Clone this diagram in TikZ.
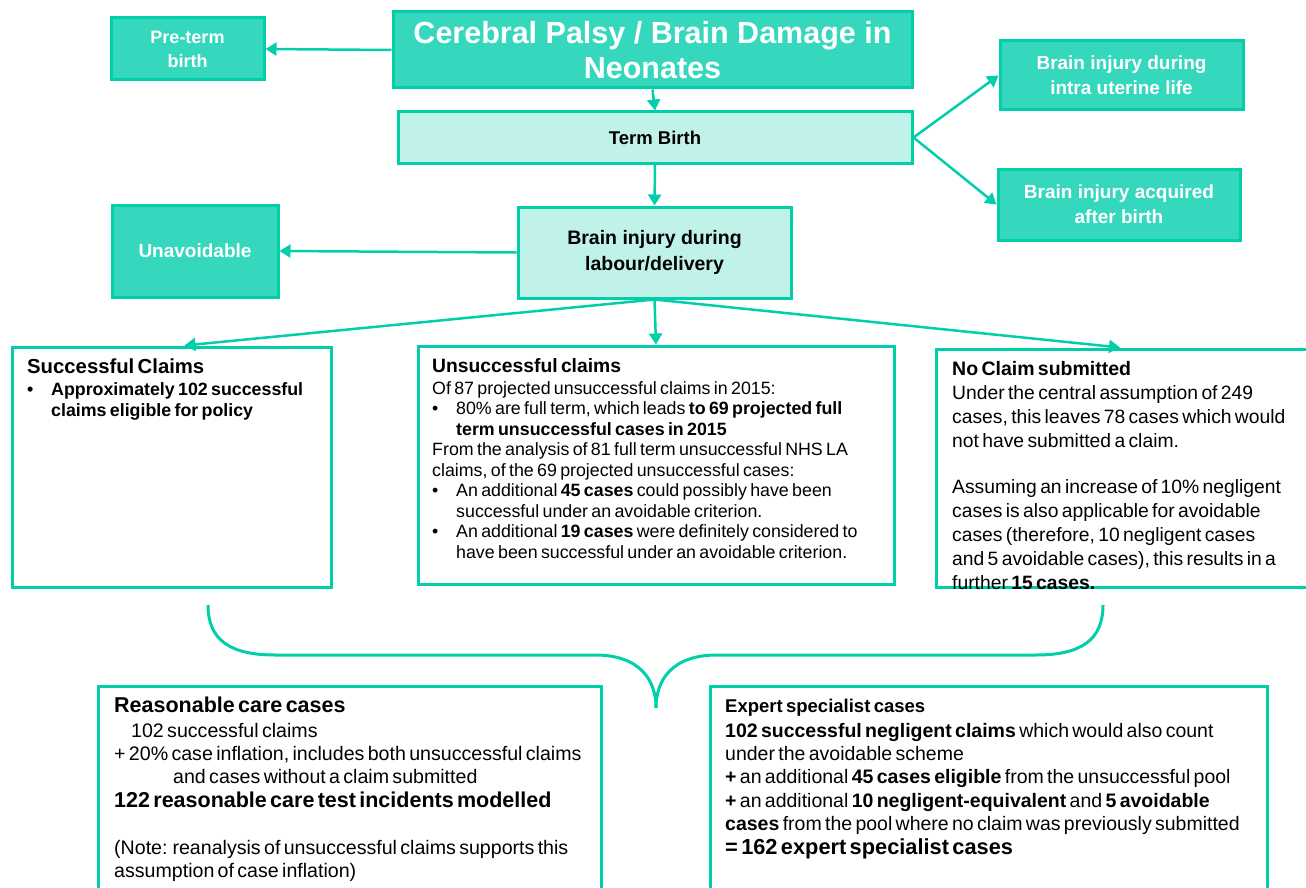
\documentclass[tikz,border=0pt]{standalone}
\usepackage{fontspec}
\setmainfont{Liberation Sans}
\usetikzlibrary{arrows.meta,calc}
\definecolor{tealfill}{HTML}{36D8BD}
\definecolor{tealline}{HTML}{00CFAA}
\definecolor{palefill}{HTML}{C0F2EA}
\newcommand{\fsz}[2]{\fontsize{#1}{#2}\selectfont}
% bulleted paragraph with hanging indent
\newcommand{\bul}[1]{\par\hangindent=24pt\hangafter=1\noindent\hbox to 24pt{\textbullet\hfil}#1\par}
\begin{document}
\begin{tikzpicture}[x=1pt,y=-1pt,
  darkbox/.style={draw=tealline, fill=tealfill, line width=3pt, text=white, align=center, inner sep=2pt},
  lightbox/.style={draw=tealline, fill=palefill, line width=3pt, text=black, align=center, inner sep=2pt},
  infobox/.style={draw=tealline, fill=white, line width=3pt},
  infotext/.style={anchor=base west, inner sep=0pt, align=left, text width=#1},
  arr/.style={draw=tealline, line width=2.5pt, -{Triangle[length=11pt,width=13pt]}},
  brace/.style={draw=tealline, line width=3pt}]
\useasboundingbox (0,0) rectangle (1306,888);

% top row
\node[darkbox, minimum width=519, minimum height=76, font={\fsz{30.5}{35}\bfseries}] (title) at (652.5,50)
  {Cerebral Palsy / Brain Damage in\\Neonates};
\node[darkbox, minimum width=153, minimum height=62, font={\fsz{18}{24}\bfseries}] (preterm) at (187.5,49)
  {Pre-term\\birth};
\node[lightbox, minimum width=514, minimum height=51, font={\fsz{18.5}{22}\bfseries}] (term) at (655,137.5)
  {Term Birth};
\node[darkbox, minimum width=243, minimum height=69, font={\fsz{19}{25}\bfseries}] (intra) at (1121.5,75.5)
  {Brain injury during\\intra uterine life};
\node[darkbox, minimum width=242, minimum height=71, font={\fsz{19}{25}\bfseries}] (after) at (1119,204.5)
  {Brain injury acquired\\after birth};
\node[lightbox, minimum width=273, minimum height=91, font={\fsz{19.5}{26}\bfseries}] (labour) at (654.5,252.5)
  {Brain injury during\\labour/delivery};
\node[darkbox, minimum width=166, minimum height=92, font={\fsz{19}{24}\bfseries}] (unavoid) at (195,251)
  {Unavoidable};

% connectors of the top part
\draw[arr] (title.west) -- (preterm.east);
\draw[arr] (title.south) -- (term.north);
\draw[arr] (term.east) -- (intra.west);
\draw[arr] (term.east) -- (after.west);
\draw[arr] (term.south) -- (labour.north);
\draw[arr] (labour.west) -- (unavoid.east);

% outcome boxes
\node[infobox, minimum width=319, minimum height=240] (succ) at (171.5,467) {};
\node[infobox, minimum width=476, minimum height=238] (unsucc) at (656,465) {};
\node[infobox, minimum width=384, minimum height=238] (noclaim) at (1128,468) {};

\draw[arr] (labour.south) -- ($(succ.north)+(13,0)$);
\draw[arr] (labour.south) -- (unsucc.north);
\draw[arr] (labour.south) -- ($(noclaim.north)+(-8,0)$);

\node[infotext=300] (succtext) at (27,373)
  {{\fsz{20.3}{22}\bfseries Successful Claims\par}\vspace{1pt}
   \fsz{17.8}{21}\bfseries
   \bul{Approximately 102 successful\newline claims eligible for policy}};

\node[infotext=455] (unsucctext) at (432,372)
  {{\fsz{19.3}{22}\bfseries Unsuccessful claims\par}\vspace{1.5pt}
   \fsz{17.8}{20.5}\selectfont
   Of 87 projected unsuccessful claims in 2015:\par
   \bul{80\% are full term, which leads \textbf{to 69 projected full\newline term unsuccessful cases in 2015}}
   From the analysis of 81 full term unsuccessful NHS LA\newline claims, of the 69 projected unsuccessful cases:\par
   \bul{An additional \textbf{45 cases} could possibly have been\newline successful under an avoidable criterion.}
   \bul{An additional \textbf{19 cases} were definitely considered to\newline have been successful under an avoidable criterion.}};

\node[infotext=380] (noclaimtext) at (952,375)
  {{\fsz{19.5}{22}\bfseries No Claim submitted\par}
   \fsz{19.3}{24}\selectfont
   Under the central assumption of 249\newline cases, this leaves 78 cases which would\newline not have submitted a claim.\par
   \vspace{22pt}
   Assuming an increase of 10\% negligent\newline cases is also applicable for avoidable\newline cases (therefore, 10 negligent cases\newline and 5 avoidable cases), this results in a\newline further \textbf{15 cases.}\par};

% brace gathering the three outcomes
\coordinate (braceL) at (208,605);
\coordinate (braceR) at (1103,605);
\coordinate (braceTip) at (656,708);
\draw[brace] (braceL) .. controls (208,640) and (230,655) .. (275,655) -- (595,655)
  .. controls (640,655) and (656,680) .. (braceTip);
\draw[brace] (braceR) .. controls (1103,640) and (1081,655) .. (1036,655) -- (717,655)
  .. controls (672,655) and (656,680) .. (braceTip);

% summary boxes
\node[infobox, minimum width=503, minimum height=214] (reason) at (349.5,793) {};
\node[infobox, minimum width=557, minimum height=214] (expert) at (988.5,793) {};

\node[infotext=490] (reasontext) at (114,712)
  {{\fsz{21.5}{24}\bfseries Reasonable care cases\par}\vspace{2pt}
   \fsz{19.6}{23}\selectfont
   \hspace*{17pt}102 successful claims\par
   + 20\% case inflation, includes both unsuccessful claims\par
   \hspace*{59pt}and cases without a claim submitted\par
   {\fsz{21.5}{24}\bfseries 122 reasonable care test incidents modelled\par}
   \vspace{24pt}
   (Note: reanalysis of unsuccessful claims supports this\newline assumption of case inflation)\par};

\node[infotext=570] (experttext) at (725,712)
  {{\fsz{18.5}{22}\bfseries Expert specialist cases\par}\vspace{2pt}
   \fsz{19.5}{23.3}\selectfont
   \textbf{102 successful negligent claims} which would also count\newline under the avoidable scheme\par
   \textbf{+} an additional \textbf{45 cases eligible} from the unsuccessful pool\par
   \textbf{+} an additional \textbf{10 negligent-equivalent} and \textbf{5 avoidable}\newline \textbf{cases} from the pool where no claim was previously submitted\par
   {\fsz{21.8}{24}\bfseries = 162 expert specialist cases\par}};
\end{tikzpicture}
\end{document}
